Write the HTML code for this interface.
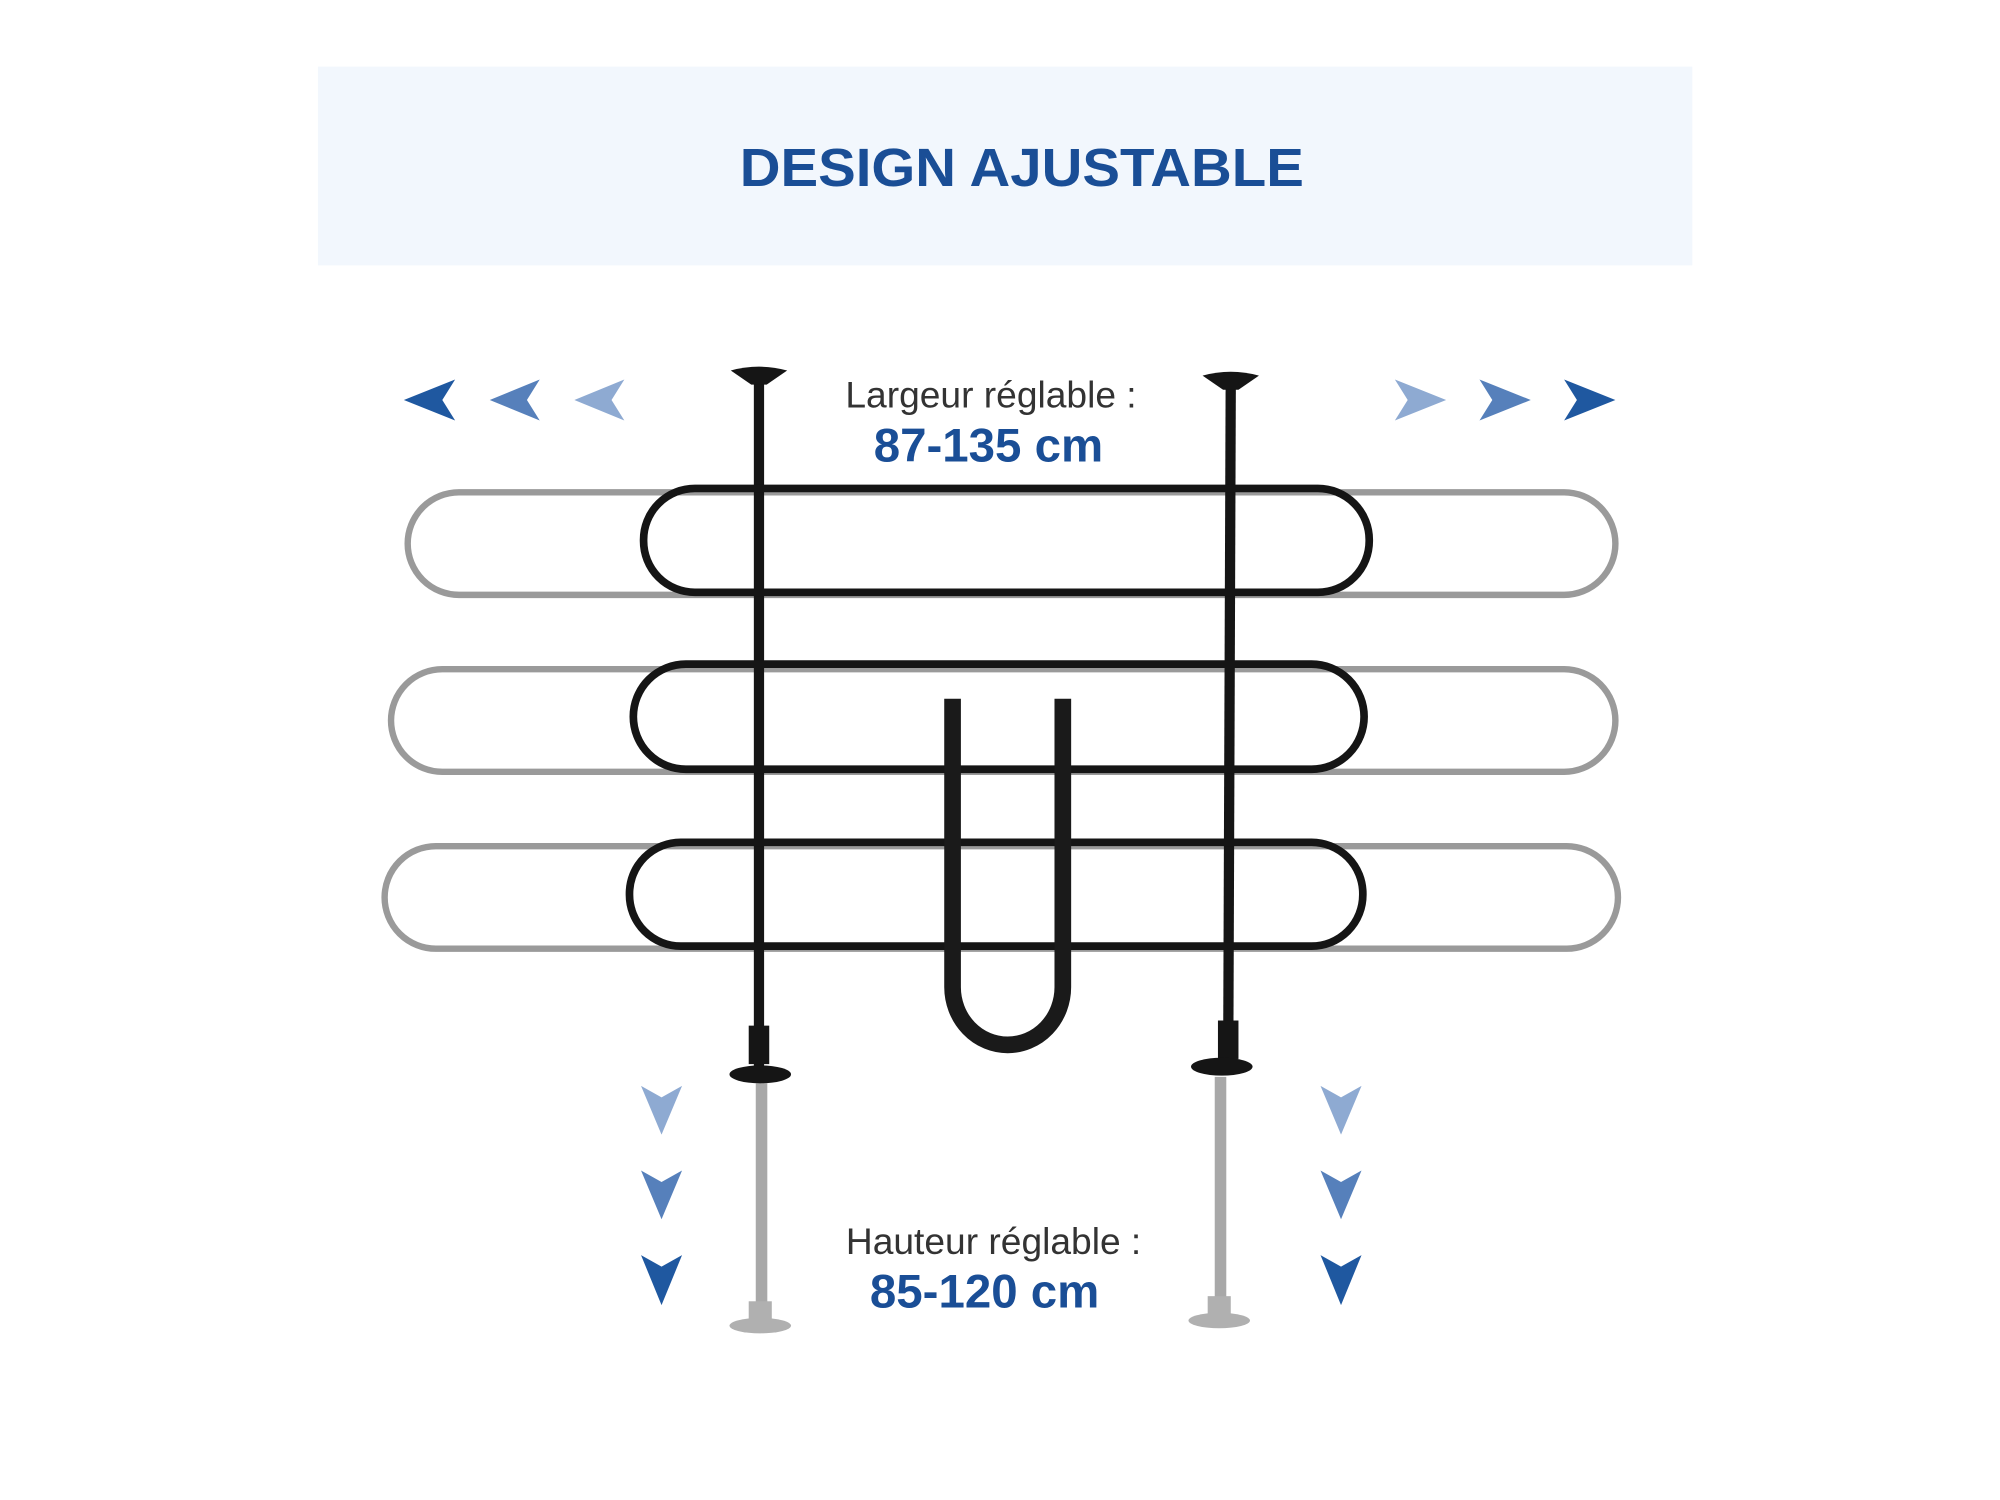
<!DOCTYPE html>
<html><head><meta charset="utf-8"><style>
html,body{margin:0;padding:0;background:#fff;}
svg{display:block;}
</style></head><body>
<svg width="2000" height="1500" viewBox="0 0 1560 1170" xmlns="http://www.w3.org/2000/svg">
<rect x="0" y="0" width="1560" height="1170" fill="#fff"/>
<rect x="248" y="52" width="1072" height="155" fill="#f2f7fd"/>
<text x="797" y="145" text-anchor="middle" font-family="Liberation Sans, sans-serif" font-weight="bold" font-size="42" fill="#1a4e96" textLength="440" lengthAdjust="spacingAndGlyphs">DESIGN AJUSTABLE</text>

<!-- horizontal arrows -->
<g>
<polygon points="315,312 355,296 345,312 355,328" fill="#1f58a0"/>
<polygon points="382,312 421,296 411,312 421,328" fill="#5680bb"/>
<polygon points="448,312 487,296 477,312 487,328" fill="#8eaad2"/>
<polygon points="1128,312 1088,296 1098,312 1088,328" fill="#8eaad2"/>
<polygon points="1194,312 1154,296 1164,312 1154,328" fill="#5680bb"/>
<polygon points="1260,312 1220,296 1230,312 1220,328" fill="#1f58a0"/>
</g>
<!-- down arrows -->
<g>
<polygon points="516,885 500,847 516,856 532,847" fill="#8eaad2"/>
<polygon points="516,951 500,913 516,922 532,913" fill="#5680bb"/>
<polygon points="516,1018 500,979 516,988 532,979" fill="#1f58a0"/>
<polygon points="1046,885 1030,847 1046,856 1062,847" fill="#8eaad2"/>
<polygon points="1046,951 1030,913 1046,922 1062,913" fill="#5680bb"/>
<polygon points="1046,1018 1030,979 1046,988 1062,979" fill="#1f58a0"/>
</g>

<!-- gray extended loops -->
<g fill="none" stroke="#9a9a9a" stroke-width="5">
<rect x="318" y="384" width="942" height="80" rx="40"/>
<rect x="305" y="522" width="955" height="80" rx="40"/>
<rect x="300" y="660" width="962" height="80" rx="40"/>
</g>
<!-- gray lower posts -->
<g stroke="#a8a8a8" stroke-width="9">
<line x1="594" y1="845" x2="594" y2="1030"/>
<line x1="952" y1="840" x2="952" y2="1025"/>
</g>
<ellipse cx="593" cy="1034" rx="24" ry="6" fill="#b0b0b0"/>
<rect x="584" y="1015" width="18" height="18" fill="#b0b0b0"/>
<ellipse cx="951" cy="1030" rx="24" ry="6" fill="#b0b0b0"/>
<rect x="942" y="1011" width="18" height="18" fill="#b0b0b0"/>

<!-- black posts -->
<g stroke="#151515" stroke-width="8">
<line x1="592" y1="290" x2="592" y2="835"/>
<line x1="960" y1="293" x2="958" y2="830"/>
</g>
<path d="M570,289 Q592,283 614,289 L598,300 L586,300 Z" fill="#151515"/>
<path d="M938,293 Q960,287 982,293 L966,304 L954,304 Z" fill="#151515"/>
<rect x="584" y="800" width="16" height="30" fill="#151515"/>
<rect x="950" y="796" width="16" height="30" fill="#151515"/>
<ellipse cx="593" cy="838" rx="24" ry="7" fill="#151515"/>
<ellipse cx="953" cy="832" rx="24" ry="7" fill="#151515"/>

<!-- black loops -->
<g fill="none" stroke="#151515" stroke-width="6">
<rect x="502" y="381" width="566" height="81" rx="40"/>
<rect x="494" y="518" width="570" height="82" rx="41"/>
<rect x="491" y="657" width="572" height="81" rx="40"/>
</g>
<!-- U -->
<path d="M743,545 V770 A43,45 0 0 0 829,770 V545" fill="none" stroke="#1a1a1a" stroke-width="13"/>

<text x="773" y="318" text-anchor="middle" font-family="Liberation Sans, sans-serif" font-size="29" fill="#333">Largeur réglable :</text>
<text x="771" y="360" text-anchor="middle" font-family="Liberation Sans, sans-serif" font-weight="bold" font-size="37" fill="#1a4e96">87-135 cm</text>
<text x="775" y="978" text-anchor="middle" font-family="Liberation Sans, sans-serif" font-size="29" fill="#333">Hauteur réglable :</text>
<text x="768" y="1020" text-anchor="middle" font-family="Liberation Sans, sans-serif" font-weight="bold" font-size="37" fill="#1a4e96">85-120 cm</text>
</svg>
</body></html>
